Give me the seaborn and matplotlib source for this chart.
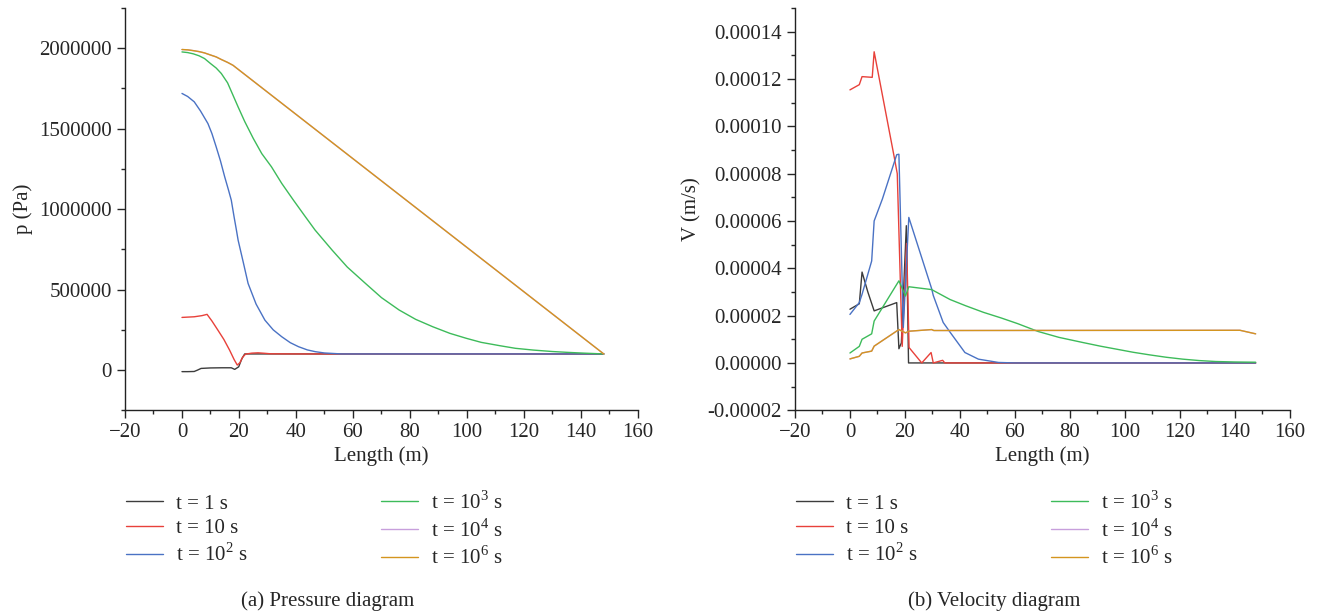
import numpy as np
import pandas as pd
import seaborn as sns
import matplotlib.pyplot as plt
from matplotlib.ticker import MultipleLocator, FuncFormatter

sns.set_style("ticks")
plt.rcParams['font.family'] = ['Liberation Serif', 'DejaVu Serif']
plt.rcParams['mathtext.fontset'] = 'custom'
plt.rcParams['mathtext.rm'] = 'Liberation Serif'
plt.rcParams['font.size'] = 15

labels = ['t = 1 s', 't = 10 s', 't = 10$^\\mathregular{2}$ s', 't = 10$^\\mathregular{3}$ s',
          't = 10$^\\mathregular{4}$ s', 't = 10$^\\mathregular{6}$ s']
colors = ['#3c3c3c', '#e8413a', '#4a72c4', '#3dbb5a', '#c79fdc', '#d4951f']

# pressure (Pa) vs length (m)
px_t1 = [0, 2, 4.3, 5.5, 6.7, 10, 14, 17.3, 18.5, 19.9, 21, 22, 30, 60, 100, 148]
p_t1 = [-10000, -10000, -9000, 0, 10000, 13000, 14000, 14000, 4000, 20000, 70000, 100000,
        100000, 100000, 100000, 100000]
px_t10 = [0, 4.3, 7, 8.8, 10.5, 12.6, 14.7, 16.7, 18.3, 19.4, 20.3, 21.3, 22.3, 24.5, 26.7,
          29, 31, 40, 148]
p_t10 = [327000, 331000, 338000, 346000, 305000, 248000, 190000, 124000, 65000, 31000, 45000,
         80000, 99000, 105000, 107000, 104000, 101000, 100000, 100000]
px_t2 = [0, 2, 4.3, 6.5, 9.1, 10.5, 12, 13.5, 15, 16.3, 17.3, 18.3, 19.1, 19.7, 21.5, 23.2, 26,
         29.1, 32, 35, 38, 40.9, 44, 46.8, 50, 56, 148]
p_t2 = [1719000, 1700000, 1667000, 1610000, 1532000, 1470000, 1387000, 1300000, 1200000,
        1120000, 1056000, 950000, 870000, 807000, 670000, 538000, 410000, 310000, 250000,
        207000, 170000, 145000, 125000, 114000, 106000, 100000, 100000]
px_t3 = [0, 2, 4, 6, 7.9, 10, 12, 13.8, 16, 17.9, 19.7, 22, 25, 28, 31.4, 35, 39.1, 43, 46.7,
         52.7, 58, 64.4, 70, 76.2, 82, 88, 94, 99.8, 105, 111.6, 117, 123.3, 130, 135.1, 141, 148]
p_t3 = [1977000, 1973000, 1965000, 1953000, 1936000, 1905000, 1877000, 1843000, 1785000,
        1708000, 1635000, 1545000, 1440000, 1345000, 1263000, 1160000, 1056000, 960000,
        870000, 745000, 640000, 538000, 450000, 373000, 315000, 269000, 228000, 197000,
        172000, 151000, 135000, 124000, 115000, 110000, 105000, 100000]
px_t6 = [0, 2, 4, 6, 7.9, 10, 12, 13.8, 16, 17.9, 148]
p_t6 = [1992000, 1990000, 1985000, 1979000, 1971000, 1958000, 1946000, 1930000, 1912000,
        1894000, 100000]
px_t4 = px_t6
p_t4 = p_t6

# velocity (m/s) vs length (m)
vx_t1 = [0, 3.4, 4.4, 6.5, 8.8, 17.0, 17.8, 18.7, 20.5, 21.3, 147.5]
v_t1 = [2.27e-5, 2.50e-5, 3.84e-5, 3.0e-5, 2.2e-5, 2.55e-5, 0.6e-5, 0.85e-5, 5.8e-5, 0, 0]
vx_t10 = [0, 3.4, 4.4, 8.1, 8.8, 16.1, 17.2, 19.0, 20.6, 21.5, 26.1, 29.5, 30.3, 33.7, 34.5,
          147.5]
v_t10 = [1.154e-4, 1.176e-4, 1.21e-4, 1.207e-4, 1.315e-4, 8.7e-5, 8.0e-5, 0.7e-5, 5.05e-5,
         0.65e-5, 0, 4.4e-6, 0, 1.1e-6, 0, 0]
vx_t2 = [0, 3.4, 4.4, 7.9, 8.8, 11.8, 17.0, 17.8, 19.4, 21.4, 29.7, 30.3, 33.9, 36.4, 41.8,
         46.7, 54, 60, 147.5]
v_t2 = [2.05e-5, 2.55e-5, 2.9e-5, 4.31e-5, 6.0e-5, 6.93e-5, 8.8e-5, 8.82e-5, 1.5e-5, 6.15e-5,
        3.14e-5, 2.85e-5, 1.71e-5, 1.3e-5, 4.4e-6, 1.6e-6, 2e-7, 0, 0]
vx_t3 = [0, 3.4, 4.4, 7.9, 8.8, 17.8, 20.2, 21.4, 29.7, 36.4, 42, 48.5, 55, 61, 68.4, 76,
         84.8, 91, 97, 103, 109, 115, 121, 127, 133, 140, 147.5]
v_t3 = [4.2e-6, 7.0e-6, 1.0e-5, 1.23e-5, 1.77e-5, 3.47e-5, 2.83e-5, 3.22e-5, 3.1e-5, 2.68e-5,
        2.42e-5, 2.14e-5, 1.9e-5, 1.66e-5, 1.33e-5, 1.08e-5, 8.6e-6, 7.1e-6, 5.8e-6, 4.5e-6,
        3.4e-6, 2.4e-6, 1.6e-6, 1.0e-6, 6e-7, 4e-7, 3e-7]
vx_t6 = [0, 3.4, 4.4, 7.9, 8.8, 17.8, 20.2, 21.4, 29.7, 30.5, 141.8, 147.5]
v_t6 = [1.7e-6, 2.8e-6, 4.2e-6, 5.0e-6, 7.1e-6, 1.41e-5, 1.27e-5, 1.34e-5, 1.41e-5, 1.37e-5,
        1.38e-5, 1.23e-5]
vx_t4 = vx_t6
v_t4 = v_t6


def long_df(xs, ys):
    frames = []
    for lab, x, y in zip(labels, xs, ys):
        frames.append(pd.DataFrame({'Length': x, 'val': y, 'series': lab}))
    return pd.concat(frames, ignore_index=True)


p_df = long_df([px_t1, px_t10, px_t2, px_t3, px_t4, px_t6], [p_t1, p_t10, p_t2, p_t3, p_t4, p_t6])
v_df = long_df([vx_t1, vx_t10, vx_t2, vx_t3, vx_t4, vx_t6], [v_t1, v_t10, v_t2, v_t3, v_t4, v_t6])

fig = plt.figure(figsize=(13.17, 6.16), dpi=100)
ax1 = fig.add_axes([0.0949, 0.334, 0.3895, 0.653])
ax2 = fig.add_axes([0.6036, 0.334, 0.3759, 0.653])

pal = dict(zip(labels, colors))
for ax, df in [(ax1, p_df), (ax2, v_df)]:
    sns.lineplot(data=df, x='Length', y='val', hue='series', hue_order=labels, palette=pal,
                 estimator=None, sort=False, linewidth=1.0, ax=ax)
    sns.despine(ax=ax)
    ax.set_xlim(-20, 160)
    ax.xaxis.set_major_locator(MultipleLocator(20))
    ax.xaxis.set_minor_locator(MultipleLocator(10))
    ax.tick_params(which='major', direction='out', length=6, width=1, labelsize=15)
    ax.tick_params(which='minor', direction='out', length=3, width=1)
    ax.set_xlabel('Length (m)', fontsize=15, labelpad=3)
    ax.grid(False)
    handles, labs = ax.get_legend_handles_labels()
    ax.legend(handles, labs, loc='upper left', bbox_to_anchor=(-0.015, -0.18), ncol=2,
              frameon=False, fontsize=15, handlelength=1.8, handletextpad=0.6,
              columnspacing=6.4, labelspacing=0.25, borderaxespad=0)

ax1.set_ylim(-250000, 2250000)
ax1.yaxis.set_major_locator(MultipleLocator(500000))
ax1.yaxis.set_minor_locator(MultipleLocator(250000))
ax1.yaxis.set_major_formatter(FuncFormatter(lambda v, pos: '%d' % v))
ax1.set_ylabel('p (Pa)', fontsize=15)

ax2.set_ylim(-0.00002, 0.00015)
ax2.yaxis.set_major_locator(MultipleLocator(0.00002))
ax2.yaxis.set_minor_locator(MultipleLocator(0.00001))
ax2.yaxis.set_major_formatter(FuncFormatter(lambda v, pos: '%.5f' % v))
ax2.set_ylabel('V (m/s)', fontsize=15)

for ax in (ax1, ax2):
    for sp in ax.spines.values():
        sp.set_linewidth(1.0)
        sp.set_color('#222222')

fig.text(0.249, 0.017, '(a) Pressure diagram', ha='center', fontsize=15)
fig.text(0.755, 0.017, '(b) Velocity diagram', ha='center', fontsize=15)

fig.savefig('out.png', dpi=100)
